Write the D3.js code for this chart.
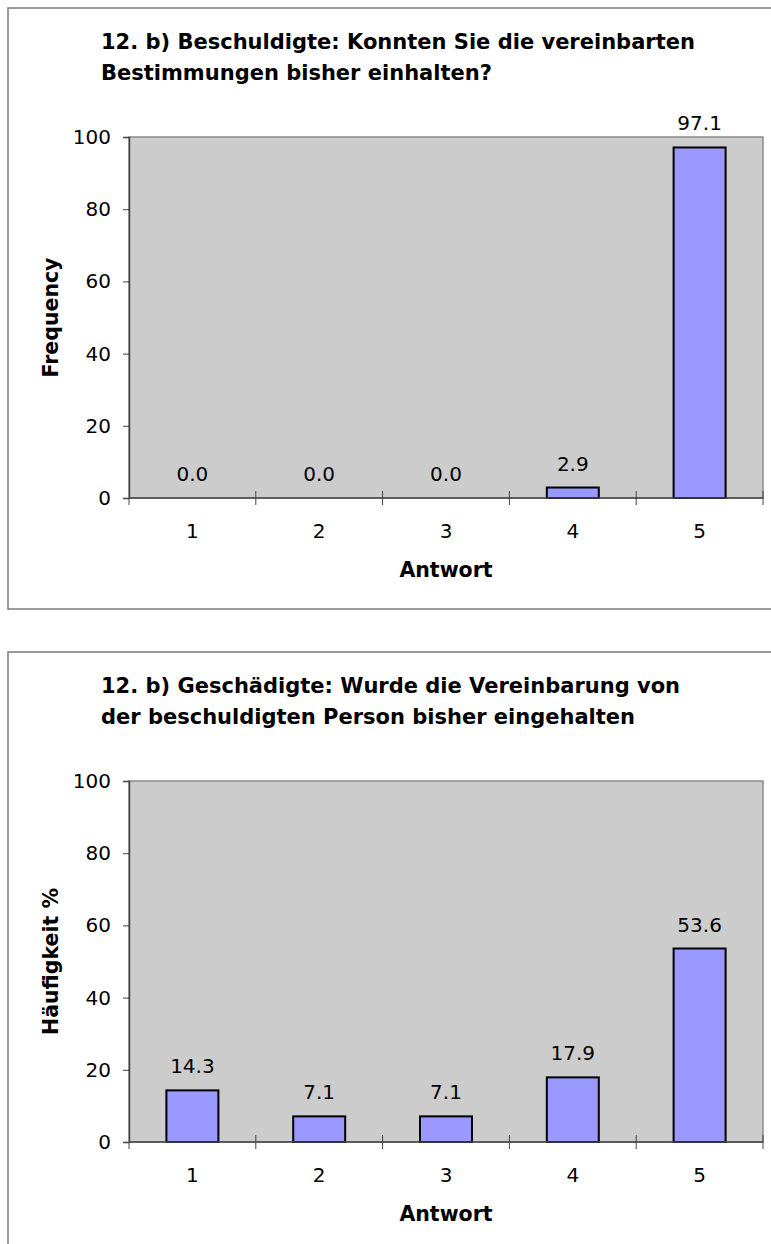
<!DOCTYPE html>
<html lang="de">
<head>
<meta charset="UTF-8">
<title>12. b) Vereinbarung eingehalten</title>
<script src="https://cdn.jsdelivr.net/npm/d3@7"></script>
<style>
    body { margin: 0; background: #fff; font-family: "DejaVu Sans", Verdana, sans-serif; }
    .box { fill: none; stroke: #7a7a7a; stroke-width: 1.5; }
    .plotbg { fill: #cccccc; stroke: #8c8c8c; stroke-width: 1.5; }
    .bar { fill: #9999ff; stroke: #000; stroke-width: 2; }
    .title { font-weight: bold; font-size: 21px; fill: #000; }
    .axislabel { font-weight: bold; font-size: 20.5px; fill: #000; }
    .tick text { font-size: 20px; fill: #000; font-family: "DejaVu Sans", Verdana, sans-serif; }
    .vlabel { font-size: 20px; fill: #000; }
</style>
</head>
<body>
<svg id="fig" width="771" height="1244"></svg>
<script>
// answer categories
let categories = ['1', '2', '3', '4', '5']
// percent values
let valuesA = [0.0, 0.0, 0.0, 2.9, 97.1]
let valuesB = [14.3, 7.1, 7.1, 17.9, 53.6]
let yTicks = [0, 20, 40, 60, 80, 100]

let titleA = ['12. b) Beschuldigte: Konnten Sie die vereinbarten', 'Bestimmungen bisher einhalten?']
let titleB = ['12. b) Geschädigte: Wurde die Vereinbarung von', 'der beschuldigten Person bisher eingehalten']

let svg = d3.select('#fig')

drawChart(0, titleA, valuesA, 'Frequency')
drawChart(644, titleB, valuesB, 'Häufigkeit %')

function drawChart(offsetY, titleLines, values, yLabel) {
    let g = svg.append('g').attr('transform', `translate(0,${offsetY})`)

    // outer frame of the chart
    g.append('rect').attr('class', 'box')
        .attr('x', 8).attr('y', 8).attr('width', 780).attr('height', 601)

    let left = 129, right = 763, top = 137, bottom = 498

    let x = d3.scaleBand().domain(categories).range([left, right]).padding(0)
    let xBar = d3.scaleBand().domain(categories).range([left, right])
        .paddingInner(0.59).paddingOuter(0.295)
    let y = d3.scaleLinear().domain([0, 100]).range([bottom, top])

    // title
    g.append('text').attr('class', 'title')
        .selectAll('tspan')
        .data(titleLines)
        .join('tspan')
        .attr('x', 101)
        .attr('y', (d, i) => 49 + i * 31)
        .text(d => d)

    // plot area
    g.append('rect').attr('class', 'plotbg')
        .attr('x', left).attr('y', top)
        .attr('width', right - left).attr('height', bottom - top)

    // bars
    g.selectAll('.bar')
        .data(values)
        .join('rect')
        .attr('class', 'bar')
        .attr('x', (d, i) => xBar(categories[i]))
        .attr('width', xBar.bandwidth())
        .attr('y', d => y(d))
        .attr('height', d => y(0) - y(d))

    // value labels
    g.selectAll('.vlabel')
        .data(values)
        .join('text')
        .attr('class', 'vlabel')
        .attr('text-anchor', 'middle')
        .attr('x', (d, i) => x(categories[i]) + x.bandwidth() / 2)
        .attr('y', d => y(d) - 17)
        .text(d => d.toFixed(1))

    // y axis
    let yAxis = g.append('g')
        .attr('transform', `translate(${left},0)`)
        .call(d3.axisLeft(y).tickValues(yTicks).tickSize(6).tickPadding(12))
    yAxis.select('.domain').attr('stroke', '#444').attr('stroke-width', 1.5)
    yAxis.selectAll('.tick line').attr('stroke', '#444')

    // x axis: labels centred, ticks on category boundaries
    let xAxis = g.append('g')
        .attr('transform', `translate(0,${bottom})`)
        .call(d3.axisBottom(x).tickSize(0).tickPadding(40))
    xAxis.select('.domain').remove()
    xAxis.selectAll('.tick text').attr('dy', '0')

    let bounds = [left].concat(categories.map(c => x(c) + x.bandwidth()))
    g.append('line')
        .attr('x1', left).attr('x2', right)
        .attr('y1', bottom).attr('y2', bottom)
        .attr('stroke', '#444').attr('stroke-width', 1.5)
    g.selectAll('.xtick')
        .data(bounds)
        .join('line')
        .attr('class', 'xtick')
        .attr('x1', d => d).attr('x2', d => d)
        .attr('y1', (d, i) => i === 0 ? bottom : bottom - 7)
        .attr('y2', bottom + 7)
        .attr('stroke', '#444')

    // axis titles
    g.append('text').attr('class', 'axislabel')
        .attr('text-anchor', 'middle')
        .attr('x', (left + right) / 2).attr('y', 577)
        .text('Antwort')

    g.append('text').attr('class', 'axislabel')
        .attr('text-anchor', 'middle')
        .attr('transform', `translate(58,${(top + bottom) / 2}) rotate(-90)`)
        .text(yLabel)
}
</script>
</body>
</html>
